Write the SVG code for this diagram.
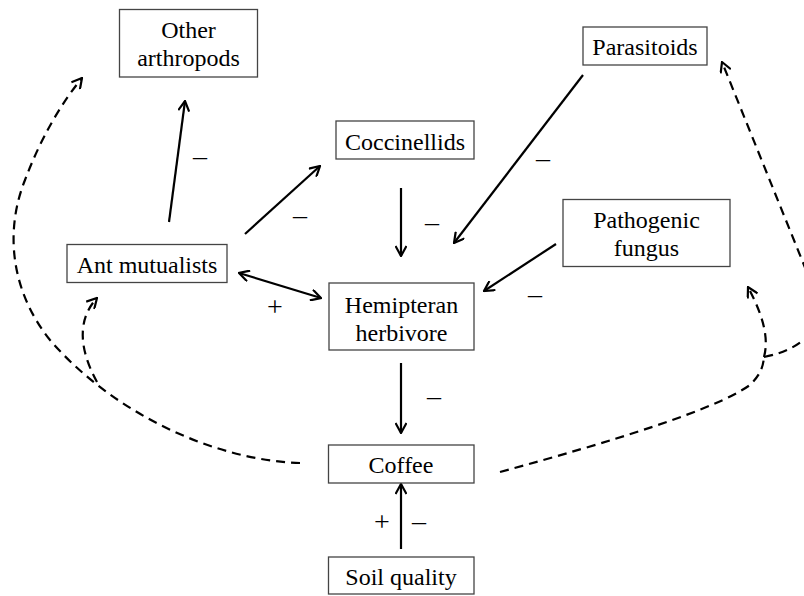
<svg xmlns="http://www.w3.org/2000/svg" width="804" height="596" viewBox="0 0 804 596">
<style>
.box{fill:#fff;stroke:#444;stroke-width:1.3}
.t{font-family:"Liberation Serif","Times New Roman",serif;font-size:24px;fill:#000;text-anchor:middle}
.l{font-family:"Liberation Serif","Times New Roman",serif;font-size:28px;fill:#000;text-anchor:middle}
.s{fill:none;stroke:#000;stroke-width:2.2}
.d{fill:none;stroke:#000;stroke-width:2.2;stroke-dasharray:9 6}
</style>
<defs>
<marker id="ah" viewBox="0 0 12 12" refX="11" refY="6" markerWidth="12" markerHeight="12" markerUnits="userSpaceOnUse" orient="auto-start-reverse">
<path d="M1,0.5 L11,6 L1,11.5" fill="none" stroke="#000" stroke-width="2.2"/>
</marker>
</defs>
<rect width="804" height="596" fill="#fff"/>
<g id="connectors">
<path class="s" d="M169,222 L185,101" marker-end="url(#ah)"/>
<path class="s" d="M245,234 L320,166" marker-end="url(#ah)"/>
<path class="s" d="M401,188 L401,256" marker-end="url(#ah)"/>
<path class="s" d="M239,273 L321,298" marker-start="url(#ah)" marker-end="url(#ah)"/>
<path class="s" d="M583,75 L454,243" marker-end="url(#ah)"/>
<path class="s" d="M556,244 L484,291" marker-end="url(#ah)"/>
<path class="s" d="M401,363 L401,433" marker-end="url(#ah)"/>
<path class="s" d="M401,549 L401,484" marker-end="url(#ah)"/>
<path class="d" d="M300,463 C210,460 110,410 50,340 C10,290 5,230 25,180 C40,140 60,105 82,78" marker-end="url(#ah)"/>
<path class="d" d="M97,382 C85,360 72,325 97,298" marker-end="url(#ah)"/>
<path class="d" d="M500,472 C610,442 715,410 750,385 C760,375 763,368 764,357"/>
<path class="d" d="M764,357 C770,335 760,310 748,287" marker-end="url(#ah)"/>
<path class="d" d="M764,357 C790,352 810,340 818,320 C822,300 812,285 804,265 L722,62" marker-end="url(#ah)"/>
<text class="l" x="200" y="165">–</text>
<text class="l" x="300" y="224">–</text>
<text class="l" x="432" y="231">–</text>
<text class="l" x="275" y="316">+</text>
<text class="l" x="543" y="167">–</text>
<text class="l" x="535" y="303">–</text>
<text class="l" x="434" y="405">–</text>
<text class="l" x="382" y="531">+</text>
<text class="l" x="419" y="530">–</text>
</g>
<g id="other-arthropods">
<rect class="box" x="119.5" y="9.5" width="138" height="67.5"/>
<text class="t" x="188.5" y="38">Other</text>
<text class="t" x="188.5" y="66">arthropods</text>
</g>
<g id="ant-mutualists">
<rect class="box" x="67" y="244.5" width="160" height="38"/>
<text class="t" x="147" y="273">Ant mutualists</text>
</g>
<g id="coccinellids">
<rect class="box" x="336" y="121" width="138" height="38"/>
<text class="t" x="405" y="150">Coccinellids</text>
</g>
<g id="hemipteran-herbivore">
<rect class="box" x="329" y="283" width="145" height="67"/>
<text class="t" x="401.5" y="313">Hemipteran</text>
<text class="t" x="401.5" y="341">herbivore</text>
</g>
<g id="parasitoids">
<rect class="box" x="583" y="27" width="124" height="38"/>
<text class="t" x="645" y="55">Parasitoids</text>
</g>
<g id="pathogenic-fungus">
<rect class="box" x="563" y="199.5" width="167" height="67"/>
<text class="t" x="646.5" y="228">Pathogenic</text>
<text class="t" x="646.5" y="256">fungus</text>
</g>
<g id="coffee">
<rect class="box" x="328.5" y="445" width="145.5" height="38"/>
<text class="t" x="401" y="473">Coffee</text>
</g>
<g id="soil-quality">
<rect class="box" x="328.5" y="557" width="145.5" height="37"/>
<text class="t" x="401" y="585">Soil quality</text>
</g>
</svg>
